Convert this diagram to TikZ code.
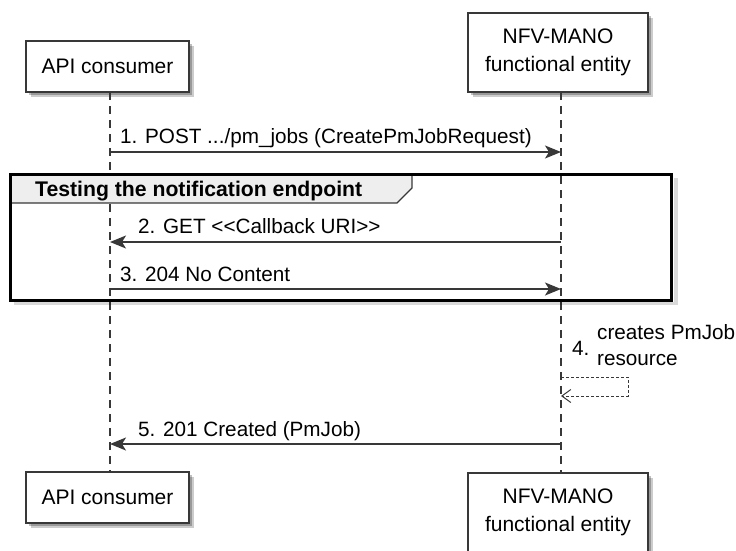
\documentclass[tikz,border=0pt]{standalone}
\usepackage{fontspec}
\setmainfont{Liberation Sans}
\usetikzlibrary{arrows.meta,shadows}
\definecolor{ln}{HTML}{383838}
\definecolor{hdr}{HTML}{EEEEEE}
\begin{document}
\begin{tikzpicture}[x=1pt,y=-1pt,
  shadowed/.style={drop shadow={shadow xshift=4.5pt,shadow yshift=-4.5pt,opacity=0.2,fill=black},
                   drop shadow={shadow xshift=3pt,shadow yshift=-3pt,opacity=0.25,fill=black}},
  part/.style={draw=ln, line width=1.8pt, fill=white, inner sep=0pt, align=center,
               font=\fontsize{21}{28}\selectfont, shadowed},
  life/.style={draw=ln, line width=1.3pt, dash pattern=on 8pt off 6pt},
  msg/.style={draw=ln, line width=1.5pt, -{Stealth[length=16pt,width=13pt,inset=4pt]}},
  selfmsg/.style={draw=ln, line width=1pt, dash pattern=on 3pt off 2pt,
                  -{Straight Barb[length=9pt,width=13pt,line width=1pt]}},
  lbl/.style={anchor=base west, inner sep=0pt, font=\fontsize{20.7}{26}\selectfont},
]
\useasboundingbox (0,0) rectangle (736,550);
% participants
\node[part, minimum width=163pt, minimum height=51pt] (A) at (107.5,66.5) {API consumer};
\node[part, minimum width=180pt, minimum height=79pt] (N) at (558,52.5) {NFV-MANO\\functional entity};
\node[part, minimum width=163pt, minimum height=51pt] (A2) at (107.5,497.5) {API consumer};
\node[part, minimum width=180pt, minimum height=79pt] (N2) at (558,512.5) {NFV-MANO\\functional entity};
% lifeline coordinates
\coordinate (aT) at (110,92);  \coordinate (aB) at (110,472);
\coordinate (nT) at (561,92);  \coordinate (nB) at (561,473);
\coordinate (a1) at (110,152); \coordinate (n1) at (561,152);
\coordinate (a2) at (110,242); \coordinate (n2) at (561,242);
\coordinate (a3) at (110,289); \coordinate (n3) at (561,289);
\coordinate (s1) at (561,377); \coordinate (s2) at (561,396);
\coordinate (a5) at (110,444); \coordinate (n5) at (561,444);
\coordinate (sR1) at (628,377); \coordinate (sR2) at (628,396);
\draw[life] (aT) -- (aB);
\draw[life] (nT) -- (nB);
% group
\fill[black, opacity=0.15] (674,178) rectangle (678,305);
\fill[black, opacity=0.15] (14,302) rectangle (674,305);
\draw[fill=hdr, draw=ln, line width=1.2pt] (10,174) -- (412,174) -- (412,188) -- (397,203) -- (10,203) -- cycle;
\draw[black, line width=3pt] (10,174) rectangle (671,300);
\node[anchor=base west, inner sep=0pt, font=\fontsize{21.2}{26}\selectfont\bfseries] (gt) at (35,196) {Testing the notification endpoint};
% messages
\draw[msg] (a1) -- (n1);
\node[lbl] (l1) at (120,143) {1. POST .../pm\_jobs (CreatePmJobRequest)};
\draw[msg] (n2) -- (a2);
\node[lbl] (l2) at (138,233) {2. GET {<}{<}Callback URI{>}{>}};
\draw[msg] (a3) -- (n3);
\node[lbl] (l3) at (120,281) {3. 204 No Content};
\draw[selfmsg] (s1) -- (sR1) -- (sR2) -- (s2);
\node[lbl] (l4) at (572,355) {4.};
\node[lbl] (l4a) at (597,339) {creates PmJob};
\node[lbl] (l4b) at (597,365) {resource};
\draw[msg] (n5) -- (a5);
\node[lbl] (l5) at (138,436) {5. 201 Created (PmJob)};
\end{tikzpicture}
\end{document}
